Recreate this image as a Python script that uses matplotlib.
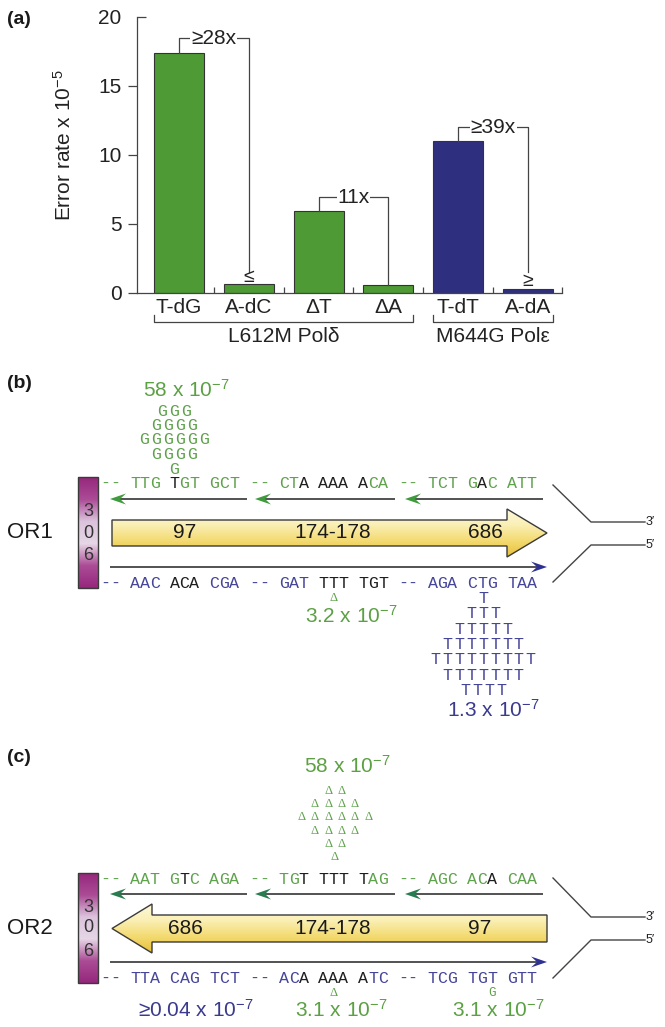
import numpy as np
import matplotlib
matplotlib.use('Agg')
import matplotlib.pyplot as plt
import matplotlib.lines as mlines
from matplotlib.patches import Polygon
from matplotlib.colors import LinearSegmentedColormap
from matplotlib.transforms import blended_transform_factory

plt.rcParams['font.family'] = ['Liberation Sans', 'DejaVu Sans']
plt.rcParams['mathtext.fontset'] = 'custom'
plt.rcParams['mathtext.rm'] = 'Liberation Sans'
plt.rcParams['mathtext.it'] = 'Liberation Sans:italic'
plt.rcParams['mathtext.bf'] = 'Liberation Sans:bold'
plt.rcParams['mathtext.default'] = 'regular'

# ---------------- panel (a) data ----------------
categories = ['T-dG', 'A-dC', 'ΔT', 'ΔA', 'T-dT', 'A-dA']
error_rates = [17.4, 0.62, 5.9, 0.55, 11.0, 0.28]
group_names = ['L612M Polδ', 'M644G Polε']
group_members = [[0, 1, 2, 3], [4, 5]]
y_ticks = [0, 5, 10, 15, 20]
fold_labels = ['≥28x', '11x', '≥39x']
fold_pairs = [(0, 1), (2, 3), (4, 5)]
fold_levels = [18.45, 6.9, 12.0]
fold_right_ends = [1.5, 0.55, 1.5]
limit_marks = ['≤', '', '≥']
limit_mark_levels = [1.1, 0.0, 0.8]

# ---------------- panels (b)/(c) data ----------------
or1_top_seq = "-- TTG TGT GCT -- CTA AAA ACA -- TCT GAC ATT"
or1_top_col = "gg ggg kgg ggg gg ggk kkk kgg gg ggg gkg ggg"
or1_bot_seq = "-- AAC ACA CGA -- GAT TTT TGT -- AGA CTG TAA"
or1_bot_col = "bb bbb kkk bbb bb bbb kkk kkk bb bbb bbb bbb"
or2_top_seq = "-- AAT GTC AGA -- TGT TTT TAG -- AGC ACA CAA"
or2_top_col = "gg ggg gkg ggg gg ggk kkk kgg gg ggg ggk ggg"
or2_bot_seq = "-- TTA CAG TCT -- ACA AAA ATC -- TCG TGT GTT"
or2_bot_col = "bb bbb bbb bbb bb bbk kkk kbb bb bbb bbb bbb"
or1_codons = ['97', '174-178', '686']
or2_codons = ['686', '174-178', '97']
or1_G_counts = [3, 4, 6, 4, 1]          # G mutations above T (OR1 top)
or1_T_counts = [1, 3, 5, 7, 9, 7, 4]    # T mutations below CTG (OR1 bottom)
or2_D_counts = [2, 4, 6, 4, 2, 1]       # deletions above TTT (OR2 top)
or1_rates = ['58 x 10$^{-7}$', '3.2 x 10$^{-7}$', '1.3 x 10$^{-7}$']
or2_rates = ['58 x 10$^{-7}$', '≥0.04 x 10$^{-7}$', '3.1 x 10$^{-7}$', '3.1 x 10$^{-7}$']
origin_label = '306'

# ---------------- styles ----------------
GREEN_BAR = '#4e9a34'
NAVY_BAR = '#2f2f80'
GREEN_T = '#5ca044'
NAVY_T = '#3a3a8e'
SEQ_COL = {'g': '#5fa24c', 'k': '#1e1e1e', 'b': '#45459a'}
LINE = '#444444'
HEAD_B = '#3e9a3a'
HEAD_C = '#287c4e'
HEAD_BLUE = '#2e3192'
MONO = 'Liberation Mono'
SEQ_FS = 12
FS = 15

W, H = 665, 1027
fig = plt.figure(figsize=(W / 100, H / 100), dpi=100)
ax2 = fig.add_axes([0, 0, 1, 1], zorder=0)


def fx(px):
    return px / W


def fy(py):
    return 1 - py / H


# ================= panel (a) =================
ax = fig.add_axes([fx(137), fy(292.7), (562 - 137) / W, (292.7 - 16.7) / H], zorder=1)
ax.patch.set_alpha(0)
xpos = np.arange(len(categories))
bw = 0.716
bar_colors = []
for gi, mem in enumerate(group_members):
    bar_colors += [GREEN_BAR if gi == 0 else NAVY_BAR] * len(mem)
ax.bar(xpos, error_rates, width=bw, color=bar_colors, edgecolor='#333333', linewidth=0.8, zorder=2)
ax.set_xlim(-0.6, 5.486)
ax.set_ylim(0, 20)
for s in ['top', 'right']:
    ax.spines[s].set_visible(False)
for s in ['left', 'bottom']:
    ax.spines[s].set_color(LINE)
    ax.spines[s].set_linewidth(0.9)
ax.set_yticks(y_ticks)
ax.tick_params(axis='y', direction='out', length=6.2, width=0.9, pad=5,
               labelsize=FS, color=LINE, labelcolor='#222222')
ax.set_xticks(xpos, categories)
ax.tick_params(axis='x', which='major', length=0, pad=4, labelsize=FS, labelcolor='#222222')
ax.set_xticks([0.5, 1.5, 2.5, 3.5, 4.5, 5.486], minor=True)
ax.tick_params(axis='x', which='minor', direction='in', length=4, width=0.9, color=LINE)
ax.yaxis.get_major_ticks()[-1].tick1line.set_marker(mlines.TICKRIGHT)
ax.set_ylabel('Error rate x 10$^{-5}$', fontsize=FS, color='#222222')
ax.yaxis.set_label_coords(-0.146, 0.535)

for (i, j), lvl, rend, lab, mk, mkl in zip(fold_pairs, fold_levels, fold_right_ends,
                                          fold_labels, limit_marks, limit_mark_levels):
    ax.plot([i, i, j, j], [error_rates[i], lvl, lvl, rend], color=LINE, lw=0.9,
            zorder=3, clip_on=False)
    ax.text((i + j) / 2, lvl, lab, ha='center', va='center', fontsize=FS, color='#222222',
            zorder=4, bbox=dict(facecolor='white', edgecolor='none', pad=0.6))
    if mk:
        ax.text(j, mkl, mk, ha='center', va='center', fontsize=14, color='#222222', zorder=4)

trans = blended_transform_factory(ax.transData, ax.transAxes)
yb = -(322 - 292.7) / 276.0
yb_up = -(315 - 292.7) / 276.0
ylab = -(336 - 292.7) / 276.0
for name, mem in zip(group_names, group_members):
    x0 = mem[0] - bw / 2
    x1 = mem[-1] + bw / 2
    ax.plot([x0, x0, x1, x1], [yb_up, yb, yb, yb_up], transform=trans, clip_on=False,
            color=LINE, lw=0.9)
    ax.text((mem[0] + mem[-1]) / 2, ylab, name, transform=trans, ha='center', va='center',
            fontsize=FS, color='#222222')

# ================= panels (b), (c) =================
ax2.set_xlim(0, W)
ax2.set_ylim(H, 0)
ax2.axis('off')

for lab, yy in [('(a)', 20), ('(b)', 384), ('(c)', 757)]:
    ax2.text(7, yy, lab, fontsize=14, fontweight='bold', ha='left', va='center', color='#1a1a1a')

SEQ_X0 = 100.2
SEQ_P = 9.92


def seq_x(i):
    return SEQ_X0 + (i + 0.5) * SEQ_P


def draw_seq(seq, cols, baseline):
    for i, (ch, c) in enumerate(zip(seq, cols)):
        if ch == ' ':
            continue
        ax2.text(seq_x(i), baseline, ch, color=SEQ_COL[c], family=MONO, fontsize=SEQ_FS,
                 ha='center', va='baseline')


def pyramid(ch, counts, cx, base_first, step, pitch, color, size, family=MONO):
    for r, n in enumerate(counts):
        y = base_first + r * step
        for k in range(n):
            ax2.text(cx + (k - (n - 1) / 2) * pitch, y, ch, color=color, family=family,
                     fontsize=size, ha='center', va='baseline')


def strand(x_start, x_end, y, head_color):
    d = np.sign(x_end - x_start)
    ax2.plot([x_start, x_end - d * 8], [y, y], color=LINE, lw=1.3, solid_capstyle='butt')
    L, hh, notch = 16, 5.5, 10
    pts = [(x_end, y), (x_end - d * L, y - hh), (x_end - d * notch, y), (x_end - d * L, y + hh)]
    ax2.add_patch(Polygon(pts, closed=True, facecolor=head_color, edgecolor='none', zorder=3))


def grad_patch(pts, colors, zorder=2):
    xs = [p[0] for p in pts]
    ys = [p[1] for p in pts]
    outline = Polygon(pts, closed=True, facecolor='none', edgecolor='#3a3a3a', lw=1.0, zorder=zorder + 1)
    ax2.add_patch(outline)
    cmap = LinearSegmentedColormap.from_list('g', colors)
    grad = np.linspace(0, 1, 256).reshape(-1, 1)
    im = ax2.imshow(grad, cmap=cmap, extent=(min(xs), max(xs), max(ys), min(ys)),
                    aspect='auto', origin='upper', zorder=zorder, interpolation='bilinear')
    im.set_clip_path(outline)


YELLOW = ['#fdf9de', '#faefb4', '#f3da70', '#e8c03a']
PURPLE = ['#96277c', '#ab4c96', '#dcc4dc', '#e6d6e6', '#ab4c96', '#96277c']


def region(y_top_base, y_bot_base, y_green, y_blue, arrow_pts, y_mid, codons, codon_x,
           top_seq, top_col, bot_seq, bot_col, head_green, box_y0, box_y1, digit_y,
           or_label, tail_top, tail_bot, y3, y5):
    draw_seq(top_seq, top_col, y_top_base)
    draw_seq(bot_seq, bot_col, y_bot_base)
    for xs, xe in [(247, 110), (395, 255), (543, 405)]:
        strand(xs, xe, y_green, head_green)
    strand(110, 547, y_blue, HEAD_BLUE)
    grad_patch(arrow_pts, YELLOW)
    for c, cx in zip(codons, codon_x):
        ax2.text(cx, y_mid, c, fontsize=FS, ha='center', va='center', color='#1a1a1a', zorder=5)
    box = [(78, box_y0), (98, box_y0), (98, box_y1), (78, box_y1)]
    grad_patch(box, PURPLE)
    for d, dy in zip(origin_label, digit_y):
        ax2.text(88, dy, d, fontsize=13, ha='center', va='center', color='#333333', zorder=5)
    ax2.text(7, y_mid, or_label, fontsize=16, ha='left', va='center', color='#1a1a1a')
    ax2.plot([553, 591, 645], [tail_top, y3, y3], color=LINE, lw=1.0)
    ax2.plot([553, 591, 645], [tail_bot, y5, y5], color=LINE, lw=1.0)
    ax2.text(646, y3, '3′', fontsize=9, ha='left', va='center', color='#222222')
    ax2.text(646, y5, '5′', fontsize=9, ha='left', va='center', color='#222222')


# (b) OR1
region(488, 588, 499, 567,
       [(112, 520), (507, 520), (507, 509), (547, 533), (507, 557), (507, 546), (112, 546)],
       533, or1_codons, [185, 333, 485], or1_top_seq, or1_top_col, or1_bot_seq, or1_bot_col,
       HEAD_B, 477, 588, [512, 533, 556], 'OR1', 485, 582, 522, 545)
pyramid('G', or1_G_counts, seq_x(7), 415.5, 14.5, 12.0, SEQ_COL['g'], SEQ_FS)
pyramid('T', or1_T_counts, seq_x(38) + 1, 603, 15.3, 11.9, SEQ_COL['b'], SEQ_FS)
ax2.text(seq_x(23), 601, 'Δ', fontsize=9, family='Liberation Serif', ha='center',
         va='baseline', color=GREEN_T)
ax2.text(186, 397, or1_rates[0], fontsize=FS, ha='center', va='baseline', color=GREEN_T)
ax2.text(351, 623, or1_rates[1], fontsize=FS, ha='center', va='baseline', color=GREEN_T)
ax2.text(493, 717, or1_rates[2], fontsize=FS, ha='center', va='baseline', color=NAVY_T)

# (c) OR2
region(884, 983, 894, 962,
       [(112, 928.5), (152, 904), (152, 915), (547, 915), (547, 942), (152, 942), (152, 953)],
       928.5, or2_codons, [185, 333, 480], or2_top_seq, or2_top_col, or2_bot_seq, or2_bot_col,
       HEAD_C, 873, 983, [907, 928, 952], 'OR2', 878, 978, 917, 940)
pyramid('Δ', or2_D_counts, 335, 793.5, 13.4, 13.3, SEQ_COL['g'], 9, family='Liberation Serif')
ax2.text(seq_x(23), 995.5, 'Δ', fontsize=9, family='Liberation Serif', ha='center',
         va='baseline', color=GREEN_T)
ax2.text(seq_x(39), 995.5, 'G', fontsize=9, family=MONO, ha='center', va='baseline',
         color=GREEN_T)
ax2.text(347, 773, or2_rates[0], fontsize=FS, ha='center', va='baseline', color=GREEN_T)
ax2.text(196, 1017, or2_rates[1], fontsize=FS, ha='center', va='baseline', color=NAVY_T)
ax2.text(341, 1017, or2_rates[2], fontsize=FS, ha='center', va='baseline', color=GREEN_T)
ax2.text(498, 1017, or2_rates[3], fontsize=FS, ha='center', va='baseline', color=GREEN_T)

ax2.set_xlim(0, W)
ax2.set_ylim(H, 0)
ax2.set_aspect('auto')

fig.savefig('out.png', dpi=100)
